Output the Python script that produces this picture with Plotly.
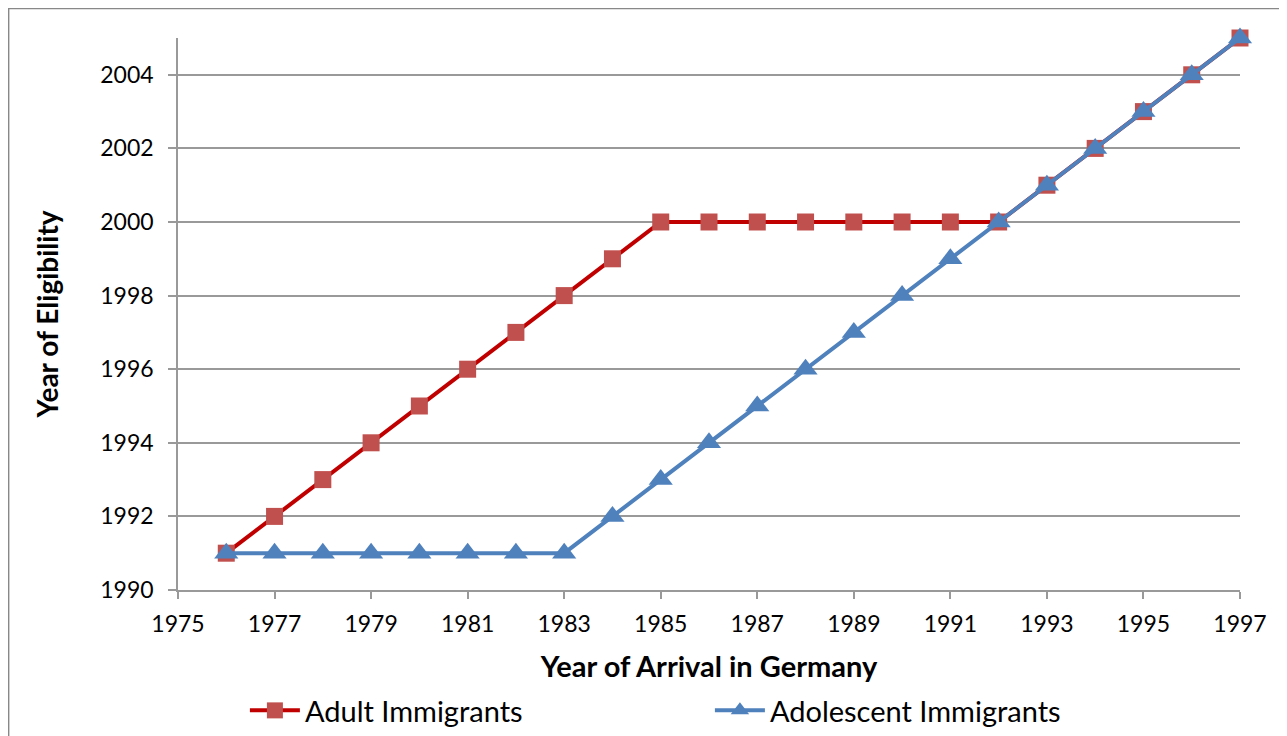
import plotly.graph_objects as go

arrival_years = list(range(1976, 1998))
adult_eligibility = [1991, 1992, 1993, 1994, 1995, 1996, 1997, 1998, 1999, 2000,
                     2000, 2000, 2000, 2000, 2000, 2000, 2000,
                     2001, 2002, 2003, 2004, 2005]
adolescent_eligibility = [1991, 1991, 1991, 1991, 1991, 1991, 1991, 1991,
                          1992, 1993, 1994, 1995, 1996, 1997, 1998, 1999, 2000,
                          2001, 2002, 2003, 2004, 2005]
x_ticks = list(range(1975, 1998, 2))
y_ticks = list(range(1990, 2005, 2))

font_family = "Lato, 'Open Sans', sans-serif"

fig = go.Figure()
fig.add_trace(go.Scatter(
    x=arrival_years, y=adult_eligibility, name="Adult Immigrants",
    mode="lines+markers",
    line=dict(color="#C00000", width=4),
    marker=dict(symbol="square", size=17, color="#C0504D", line=dict(width=0)),
    cliponaxis=False,
))
fig.add_trace(go.Scatter(
    x=arrival_years, y=adolescent_eligibility, name="Adolescent Immigrants",
    mode="lines+markers",
    line=dict(color="#4F81BD", width=4),
    marker=dict(symbol="triangle-up", size=21, color="#4F81BD", line=dict(width=0)),
    cliponaxis=False,
))

fig.update_layout(
    width=1279, height=728,
    margin=dict(l=170, r=47, t=30, b=146, autoexpand=False),
    paper_bgcolor="white", plot_bgcolor="white",
    font=dict(family=font_family, size=23, color="black"),
    xaxis=dict(
        range=[1975, 1997], tickvals=x_ticks, showgrid=False,
        showline=True, linecolor="#999999", linewidth=1.5,
        ticks="outside", ticklen=7, tickcolor="#999999", tickwidth=1.5,
        ticklabelstandoff=6, automargin=False,
        zeroline=False,
        title=dict(text="<b>Year of Arrival in Germany</b>", font=dict(size=29), standoff=20),
    ),
    yaxis=dict(
        range=[1990, 2005], tickvals=y_ticks, showgrid=True,
        gridcolor="#999999", gridwidth=1.5,
        showline=True, linecolor="#999999", linewidth=1.5,
        ticks="outside", ticklen=8, tickcolor="#999999", tickwidth=1.5,
        ticklabelstandoff=10, automargin=False,
        zeroline=False,
        title=dict(text="<b>Year of Eligibility</b>", font=dict(size=28), standoff=33),
    ),
    legend=dict(
        orientation="h", x=0.063, xanchor="left", y=0.035, yanchor="middle",
        yref="container",
        font=dict(size=29), entrywidth=400, entrywidthmode="pixels",
        itemwidth=50, bgcolor="rgba(0,0,0,0)",
    ),
    showlegend=True,
)

fig.add_shape(type="rect", xref="paper", yref="paper",
              x0=-0.1597, x1=1.1, y0=-0.3, y1=1.054,
              line=dict(color="#888888", width=2), fillcolor="rgba(0,0,0,0)", layer="below")

fig.write_html("out.html")
